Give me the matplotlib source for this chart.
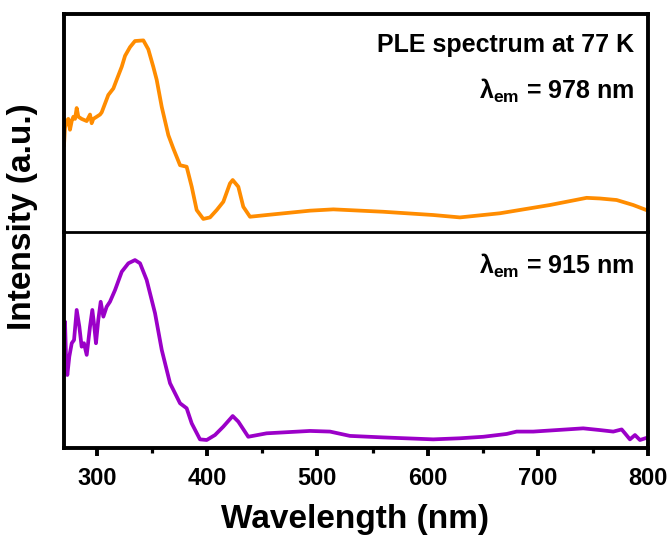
import matplotlib
matplotlib.use("Agg")
import matplotlib.pyplot as plt
from matplotlib.ticker import MultipleLocator

# ──────────────────────────────────────────
# Data (normalised per panel)
# ──────────────────────────────────────────
wl_978 = [270, 270.9, 272.4, 273.9, 275.4, 277, 278.5, 280, 281.5, 283, 286,
          290.6, 293.6, 295.1, 296.6, 299.7, 302.7, 304.2, 308.7, 310.2, 314.8,
          317.8, 322.4, 325.4, 329.9, 334.4, 342, 346.5, 351, 354.1, 358.7,
          364.7, 369.2, 375.3, 381.3, 385.9, 390.4, 396.4, 402.5, 408.6, 414.6,
          420.6, 423.1, 428.2, 432.7, 438.8, 453.9, 493.2, 514.4, 559.7, 605.1,
          629.3, 665.6, 711, 744.3, 756.4, 771.5, 786.6, 800]
int_978 = [0.40, 0.48, 0.51, 0.52, 0.47, 0.51, 0.53, 0.52, 0.57, 0.53, 0.52,
           0.51, 0.54, 0.50, 0.52, 0.53, 0.54, 0.55, 0.61, 0.63, 0.66,
           0.70, 0.76, 0.81, 0.85, 0.878, 0.881, 0.84, 0.76, 0.70, 0.575,
           0.445, 0.384, 0.307, 0.300, 0.208, 0.101, 0.060, 0.067, 0.101, 0.139,
           0.223, 0.239, 0.208, 0.116, 0.070, 0.078, 0.098, 0.104, 0.093, 0.078,
           0.067, 0.086, 0.124, 0.157, 0.154, 0.147, 0.124, 0.098]

wl_915 = [270, 270.9, 271.8, 273, 274.8, 277, 279.1, 281.5, 283.9, 286, 288.1,
          290.6, 293.6, 295.7, 297.5, 299, 301.1, 303.3, 305.7, 308.7, 311.7,
          316.3, 322.4, 328.4, 334.4, 339, 345, 352.6, 358.7, 366.2, 375.3,
          381.3, 385.9, 393.4, 399.5, 407, 414.6, 423.1, 428.2, 437.2, 453.9,
          493.2, 511.4, 529.5, 559.7, 605.1, 629.3, 650.5, 671.7, 680.8, 695.9,
          726.2, 741.2, 756.4, 768.5, 776.1, 779.1, 783.6, 788.2, 792.7, 800]
int_915 = [0.392, 0.585, 0.423, 0.338, 0.423, 0.485, 0.500, 0.639, 0.562, 0.469,
           0.485, 0.431, 0.562, 0.639, 0.562, 0.485, 0.593, 0.677, 0.608, 0.654,
           0.677, 0.731, 0.816, 0.855, 0.870, 0.855, 0.778, 0.624, 0.454, 0.300,
           0.207, 0.184, 0.114, 0.040, 0.037, 0.060, 0.099, 0.148, 0.122, 0.052,
           0.068, 0.079, 0.076, 0.056, 0.049, 0.040, 0.045, 0.052, 0.065, 0.076,
           0.076, 0.086, 0.091, 0.083, 0.076, 0.086, 0.068, 0.040, 0.060, 0.037,
           0.049]

X_TICKS = [300, 400, 500, 600, 700, 800]

ORANGE = "#FF8C00"
PURPLE = "#9B00C8"

plt.rcParams["font.family"] = ["Liberation Sans", "DejaVu Sans"]
plt.rcParams["font.weight"] = "bold"
plt.rcParams["mathtext.fontset"] = "custom"
plt.rcParams["mathtext.rm"] = "Liberation Sans:bold"
plt.rcParams["mathtext.bf"] = "Liberation Sans:bold"

fig = plt.figure(figsize=(6.71, 5.41), dpi=100)
left, width = 0.0954, 0.8703
ax_top = fig.add_axes([left, 0.5712, width, 0.9732 - 0.5712])
ax_bot = fig.add_axes([left, 0.1719, width, 0.5712 - 0.1719], sharex=ax_top)

ax_top.plot(wl_978, int_978, color=ORANGE, lw=2.7, solid_joinstyle="round")
ax_bot.plot(wl_915, int_915, color=PURPLE, lw=2.7, solid_joinstyle="round")

for ax in (ax_top, ax_bot):
    ax.set_xlim(270, 800)
    ax.set_ylim(0, 1)
    ax.set_yticks([])
    for s in ax.spines.values():
        s.set_linewidth(2.8)

# divider between the two panels
ax_top.spines["bottom"].set_visible(False)
ax_bot.spines["top"].set_linewidth(2.0)
ax_top.tick_params(axis="x", which="both", bottom=False, labelbottom=False)

ax_bot.set_xticks(X_TICKS)
ax_bot.xaxis.set_minor_locator(MultipleLocator(50))
ax_bot.tick_params(axis="x", which="major", direction="out", length=6, width=2.8,
                   labelsize=17, pad=8)
ax_bot.tick_params(axis="x", which="minor", direction="out", length=3.5, width=2.3)
for lab in ax_bot.get_xticklabels():
    lab.set_fontweight("bold")

ax_top.text(0.976, 0.858, "PLE spectrum at 77 K", transform=ax_top.transAxes,
            ha="right", va="center", fontsize=18, fontweight="bold")
ax_top.text(0.976, 0.651, r"λ$_{\mathbf{em}}$ = 978 nm", transform=ax_top.transAxes,
            ha="right", va="center", fontsize=18, fontweight="bold")
ax_bot.text(0.976, 0.844, r"λ$_{\mathbf{em}}$ = 915 nm", transform=ax_bot.transAxes,
            ha="right", va="center", fontsize=18, fontweight="bold")

fig.text(0.034, 0.60, "Intensity (a.u.)", rotation=90, ha="center", va="center",
         fontsize=24, fontweight="bold")
fig.text(0.529, 0.039, "Wavelength (nm)", ha="center", va="center",
         fontsize=24, fontweight="bold")

fig.savefig("out.png", dpi=100)
